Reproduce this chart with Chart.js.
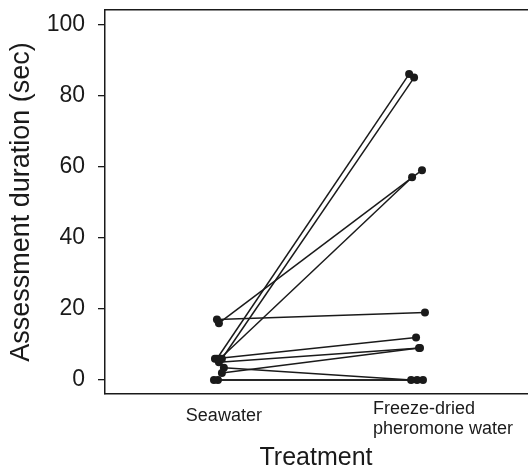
<!DOCTYPE html>
<html lang="en">
<head>
  <meta charset="UTF-8">
  <title>Assessment duration by treatment</title>
  <script src="https://cdn.jsdelivr.net/npm/chart.js"></script>
  <style>
    body { margin: 0; background: #fff; }
    #wrap { width: 531px; height: 473px; }
  </style>
</head>
<body>
  <div id="wrap"><canvas id="chart" width="531" height="473"></canvas></div>

  <script>
    // category labels (x = 1, 2)
    const categories = ['Seawater', ['Freeze-dried', 'pheromone water']];

    // one entry per animal: seawater value -> pheromone value (sec)
    const seawater = [17, 16, 6, 6, 6, 6, 5, 2, 3.5, 0, 0];
    const pheromone = [19, 59, 86, 85, 57, 12, 9, 9, 0, 0, 0];

    // jittered x positions
    const seawaterX = [0.965, 0.975, 0.965, 0.99, 0.98, 0.955, 0.975, 0.99, 1.0, 0.95, 0.97];
    const pheromoneX = [2.015, 2.0, 1.935, 1.96, 1.95, 1.97, 1.99, 1.985, 1.945, 1.975, 2.005];

    const yTicks = [0, 20, 40, 60, 80, 100];

    const ink = '#1a1a1a';
    const font = '"Liberation Sans", Arial, sans-serif';

    const datasets = seawater.map((v, i) => ({
      data: [{ x: seawaterX[i], y: v }, { x: pheromoneX[i], y: pheromone[i] }],
      showLine: true,
      borderColor: ink,
      borderWidth: 1.5,
      pointRadius: 4,
      pointBorderWidth: 0,
      pointBackgroundColor: ink
    }));

    // draws the category names under the axis (lines left aligned like the original)
    const categoryLabels = {
      id: 'categoryLabels',
      afterDraw(chart) {
        const { ctx, scales: { x } } = chart;
        ctx.save();
        ctx.font = '18px ' + font;
        ctx.fillStyle = ink;
        ctx.textBaseline = 'middle';
        ctx.textAlign = 'left';
        categories.forEach((label, i) => {
          const lines = Array.isArray(label) ? label : [label];
          const w = Math.max(...lines.map(l => ctx.measureText(l).width));
          const shift = i === 0 ? 0 : 21;
          const left = x.getPixelForValue(i + 1) + shift - w / 2;
          const top = x.top + 22 - (lines.length - 1) * 7;
          lines.forEach((l, j) => ctx.fillText(l, left, top + j * 20));
        });
        ctx.restore();
      }
    };

    new Chart(document.getElementById('chart'), {
      type: 'scatter',
      data: { datasets },
      plugins: [categoryLabels],
      options: {
        responsive: false,
        animation: false,
        layout: { padding: { top: 10, left: 0, right: 0, bottom: 0 } },
        plugins: { legend: { display: false }, tooltip: { enabled: false } },
        scales: {
          x: {
            type: 'linear',
            position: 'bottom',
            min: 0.4,
            max: 2.53,
            ticks: { display: false },
            grid: { display: false },
            border: { display: true, color: ink, width: 1.5 },
            title: {
              display: true,
              text: 'Treatment',
              color: ink,
              font: { family: font, size: 25 },
              padding: { top: 0, bottom: 0 }
            },
            afterFit(scale) { scale.height = 79; }
          },
          x2: {
            type: 'linear',
            position: 'top',
            display: true,
            ticks: { display: false },
            grid: { display: false },
            border: { display: true, color: ink, width: 1.5 },
            afterFit(scale) { scale.height = 0; }
          },
          y: {
            min: -3.9,
            max: 104,
            afterBuildTicks(scale) { scale.ticks = yTicks.map(v => ({ value: v })); },
            ticks: {
              color: ink,
              padding: 13,
              font: { family: font, size: 23 }
            },
            grid: {
              display: true,
              drawOnChartArea: false,
              drawTicks: true,
              tickLength: 7,
              color: ink,
              lineWidth: 1.3
            },
            border: { display: true, color: ink, width: 1.5 },
            title: {
              display: true,
              text: 'Assessment duration (sec)',
              color: ink,
              font: { family: font, size: 27 },
              padding: { top: 5, bottom: 0 }
            },
            afterFit(scale) {
              scale.width = 105;
              scale.paddingTop = 0;
              scale.paddingBottom = 0;
            }
          }
        }
      }
    });
  </script>
</body>
</html>
